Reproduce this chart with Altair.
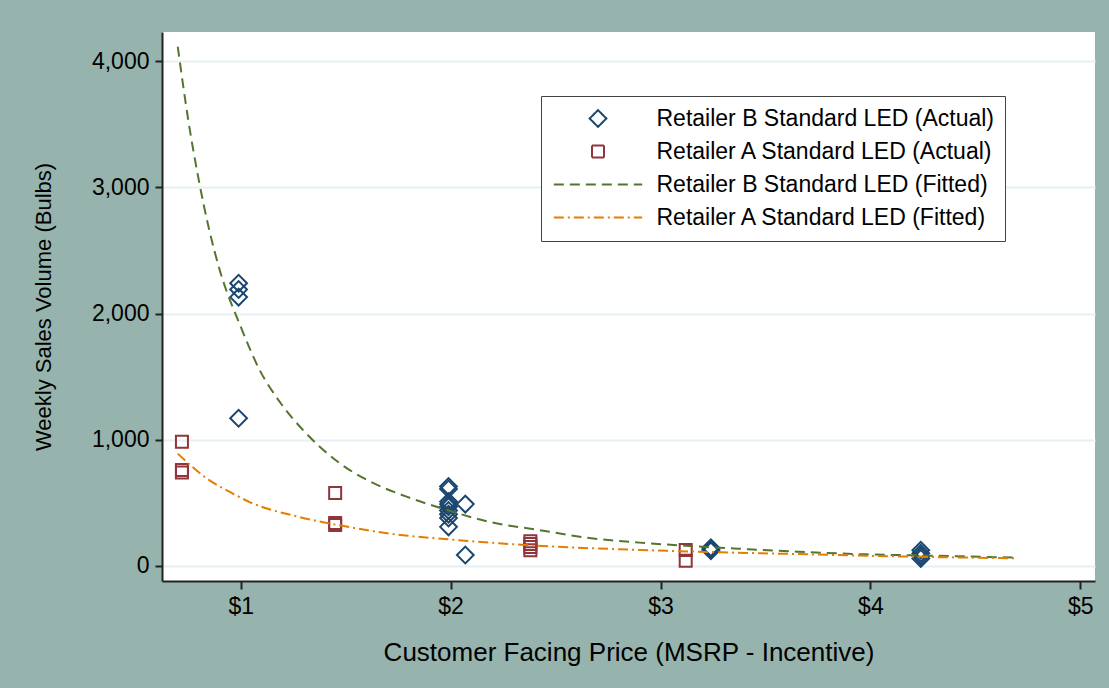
import altair as alt
import pandas as pd

SERIES = [
    "Retailer B Standard LED (Actual)",
    "Retailer A Standard LED (Actual)",
    "Retailer B Standard LED (Fitted)",
    "Retailer A Standard LED (Fitted)",
]
COLORS = ["#1a476f", "#90353b", "#55752f", "#e37e00"]

# Observed weekly sales, Retailer B
b_price = [0.99, 0.99, 0.99, 0.99,
           1.99, 1.99, 1.99, 1.99, 1.99, 1.99, 1.99, 1.99, 1.99,
           2.07, 2.07,
           3.24, 3.24, 3.24,
           4.24, 4.24, 4.24, 4.24]
b_volume = [2240, 2190, 2130, 1170,
            630, 610, 510, 490, 470, 440, 410, 380, 310,
            490, 87,
            145, 132, 120,
            125, 100, 80, 60]

# Observed weekly sales, Retailer A
a_price = [0.72, 0.72, 0.72, 1.45, 1.45, 1.45, 2.38, 2.38, 2.38, 2.38, 3.12, 3.12]
a_volume = [985, 760, 740, 578, 340, 325, 195, 175, 150, 125, 127, 42]

# Fitted demand curves
b_fit_price = [0.70, 0.75, 0.80, 0.85, 0.90, 1.00, 1.09, 1.19, 1.31, 1.47, 1.63, 1.79,
               1.99, 2.18, 2.42, 2.66, 2.90, 3.14, 3.37, 3.66, 3.98, 4.29, 4.70]
b_fit_volume = [4115, 3534, 3059, 2662, 2345, 1896, 1553, 1291, 1054, 816, 658, 549,
                440, 351, 285, 222, 185, 158, 137, 113, 92, 82, 66]
a_fit_price = [0.70, 0.85, 0.95, 1.04, 1.28, 1.52, 1.76, 1.99, 2.23, 2.50, 2.90, 3.29,
               3.66, 3.98, 4.29, 4.70]
a_fit_volume = [890, 680, 585, 508, 388, 307, 246, 211, 180, 153, 127, 108,
                94, 81, 71, 61]

points = pd.DataFrame({
    "price": b_price + a_price,
    "volume": b_volume + a_volume,
    "series": [SERIES[0]] * len(b_price) + [SERIES[1]] * len(a_price),
})
fits = pd.DataFrame({
    "price": b_fit_price + a_fit_price,
    "volume": b_fit_volume + a_fit_volume,
    "series": [SERIES[2]] * len(b_fit_price) + [SERIES[3]] * len(a_fit_price),
})

FONT = "Liberation Sans"

# One boxed legend shared by colour, shape, size and dash
legend = alt.Legend(
    title=None,
    orient="none",
    legendX=379,
    legendY=64,
    strokeColor="#444444",
    fillColor="white",
    padding=11,
    labelFont=FONT,
    labelFontSize=23,
    labelColor="black",
    labelLimit=0,
    labelOffset=47,
    symbolOffset=34.5,
    rowPadding=9,
    symbolStrokeWidth=2,
)

# a long horizontal stroke used as the legend key for the fitted curves
LINE_KEY = "M-5.2,0L5.2,0"

color = alt.Color("series:N", scale=alt.Scale(domain=SERIES, range=COLORS), legend=legend)

x = alt.X(
    "price:Q",
    scale=alt.Scale(domain=[0.625, 5.07], nice=False, zero=False),
    axis=alt.Axis(
        values=[1, 2, 3, 4, 5], format="$d", grid=False,
        title="Customer Facing Price (MSRP - Incentive)",
        labelFontSize=23, labelPadding=6, labelBaseline="top",
    ),
)
y = alt.Y(
    "volume:Q",
    scale=alt.Scale(domain=[-119, 4230], nice=False, zero=False),
    axis=alt.Axis(
        values=[0, 1000, 2000, 3000, 4000], format=",.0f", grid=True,
        title="Weekly Sales Volume (Bulbs)",
    ),
)

pts = alt.Chart(points).mark_point(filled=False, strokeWidth=2, opacity=1).encode(
    x=x,
    y=y,
    color=color,
    shape=alt.Shape("series:N", scale=alt.Scale(domain=SERIES, range=["diamond", "square", LINE_KEY, LINE_KEY]), legend=legend),
    size=alt.Size("series:N", scale=alt.Scale(type="ordinal", domain=SERIES, range=[280, 144, 289, 289]), legend=legend),
)

lines = alt.Chart(fits).mark_line(strokeWidth=2, interpolate="monotone").encode(
    x=x,
    y=y,
    color=color,
    strokeDash=alt.StrokeDash("series:N", scale=alt.Scale(domain=SERIES, range=[[1, 0], [1, 0], [10, 6], [10, 4, 2, 4]]), legend=legend),
    detail="series:N",
)

chart = (
    alt.layer(pts, lines)
    .properties(
        width=933,
        height=549,
        padding={"left": 162, "top": 32, "right": 14, "bottom": 107},
        autosize=alt.AutoSizeParams(type="none"),
        background="#96b4ad",
    )
    .configure_view(fill="white", stroke=None)
    .configure_axis(
        labelFont=FONT, titleFont=FONT, labelColor="black", titleColor="black",
        titleFontWeight="normal", domainColor="#222222", domainWidth=2,
        tickColor="#222222", tickWidth=2, gridColor="#e6eff1", gridWidth=2,
    )
    .configure_axisX(titleFontSize=26, tickSize=8, titlePadding=21)
    .configure_axisY(labelFontSize=23, titleFontSize=22, tickSize=7, labelPadding=6, titlePadding=36)
)

chart.save("out.html", embed_options={"renderer": "svg", "actions": False})
